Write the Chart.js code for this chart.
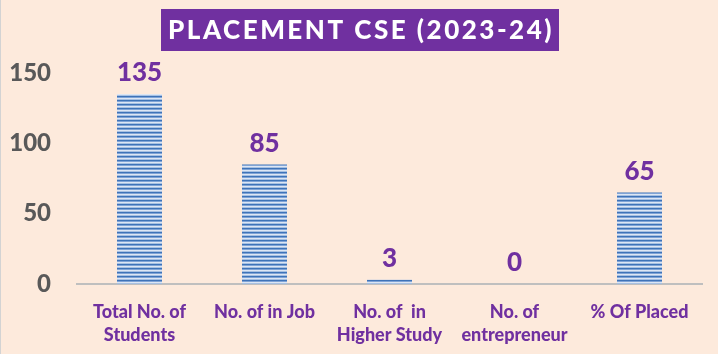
<!DOCTYPE html>
<html>
<head>
<meta charset="utf-8">
<script src="https://cdn.jsdelivr.net/npm/chart.js@4/dist/chart.umd.min.js"></script>
<style>
  html, body { margin: 0; padding: 0; background: #FDEADC; }
  #wrap { width: 718px; height: 354px; position: relative; }
</style>
</head>
<body>
<div id="wrap"><canvas id="c" width="718" height="354"></canvas></div>
<script>
const titleText = "PLACEMENT CSE (2023-24)";
const categories = [
  ["Total No. of", "Students"],
  "No. of in Job",
  ["No. of  in", "Higher Study"],
  ["No. of", "entrepreneur"],
  "% Of Placed"
];
const values = [135, 85, 3, 0, 65];
const yTicks = [0, 50, 100, 150];

const FONT = "Lato, 'Open Sans', sans-serif";
const PURPLE = "#7030A0";

function stripePattern(ctx) {
  const pc = document.createElement("canvas");
  pc.width = 1; pc.height = 4;
  const p = pc.getContext("2d");
  const rows = ["#3E73B8", "#7FA3D6", "#DCE6F4", "#A7C0E2"];
  rows.forEach((c, i) => { p.fillStyle = c; p.fillRect(0, i, 1, 1); });
  return ctx.createPattern(pc, "repeat");
}

const framePlugin = {
  id: "frame",
  beforeDraw(chart) {
    const ctx = chart.ctx;
    ctx.save();
    ctx.fillStyle = "#D3D3D3";
    ctx.fillRect(0, 0, 1, chart.height);
    ctx.restore();
  }
};

const titlePlugin = {
  id: "titleBox",
  afterDraw(chart) {
    const ctx = chart.ctx;
    ctx.save();
    ctx.fillStyle = PURPLE;
    ctx.fillRect(161, 9, 398, 42);
    ctx.fillStyle = "#FFFFFF";
    ctx.font = "900 26px " + FONT;
    if ("letterSpacing" in ctx) ctx.letterSpacing = "2.5px";
    ctx.textAlign = "center";
    ctx.textBaseline = "middle";
    ctx.fillText(titleText, 361, 31);
    ctx.restore();
  }
};

const labelPlugin = {
  id: "valueLabels",
  afterDatasetsDraw(chart) {
    const ctx = chart.ctx;
    const meta = chart.getDatasetMeta(0);
    ctx.save();
    ctx.fillStyle = PURPLE;
    ctx.font = "900 26px " + FONT;
    ctx.textAlign = "center";
    ctx.textBaseline = "bottom";
    meta.data.forEach((bar, i) => {
      ctx.fillText(String(values[i]), bar.x, bar.y - 8);
    });
    ctx.restore();
  }
};

const ctx = document.getElementById("c").getContext("2d");
new Chart(ctx, {
  type: "bar",
  data: {
    labels: categories,
    datasets: [{
      data: values,
      backgroundColor: stripePattern(ctx),
      borderWidth: 0,
      barPercentage: 0.72,
      categoryPercentage: 0.5
    }]
  },
  options: {
    responsive: false,
    animation: false,
    layout: { padding: { top: 73, right: 16, left: 0, bottom: 0 } },
    plugins: {
      legend: { display: false },
      tooltip: { enabled: false }
    },
    scales: {
      x: {
        grid: { display: false, drawTicks: false },
        border: { display: true, color: "#BFBFBF", width: 2 },
        ticks: {
          color: PURPLE,
          font: { family: FONT, size: 18, weight: "900", lineHeight: 1.3 },
          padding: 16,
          maxRotation: 0,
          autoSkip: false
        },
        afterFit(scale) { scale.height = 70; }
      },
      y: {
        min: 0,
        max: 150,
        afterBuildTicks(scale) { scale.ticks = yTicks.map(v => ({ value: v })); },
        grid: { display: false, drawTicks: false },
        border: { display: false },
        ticks: {
          color: "#595959",
          font: { family: FONT, size: 24, weight: "900" },
          padding: 26
        },
        afterFit(scale) { scale.width = 77; }
      }
    }
  },
  plugins: [framePlugin, titlePlugin, labelPlugin]
});
</script>
</body>
</html>
